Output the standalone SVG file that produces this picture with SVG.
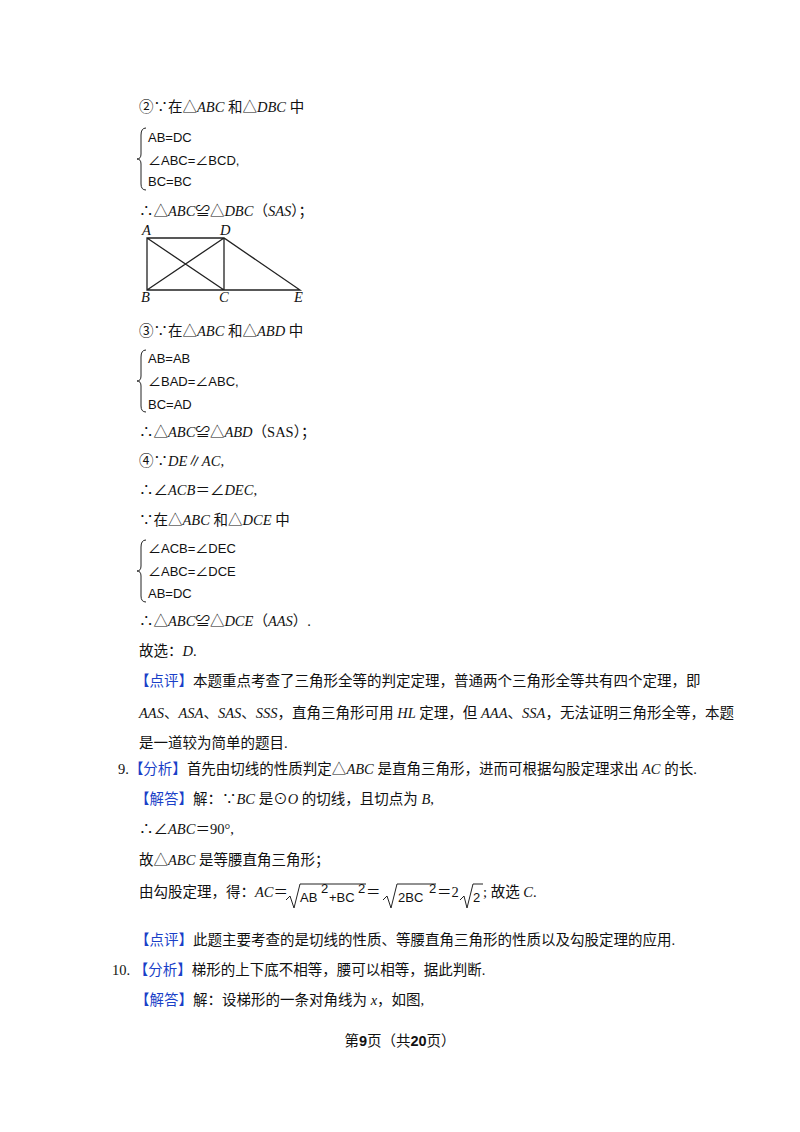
<svg xmlns="http://www.w3.org/2000/svg" width="800" height="1132" viewBox="0 0 800 1132">
<style>
text{font-family:"Liberation Serif","Noto Sans CJK SC",serif;font-size:14.5px;fill:#111}
.b{fill:#1a3fc8}
.i{font-style:italic}
.m{font-family:"Liberation Sans","Noto Sans CJK SC",sans-serif;font-size:13px}
.br{fill:none;stroke:#222;stroke-width:1}
.ln{stroke:#222;stroke-width:1.3;fill:none}
</style>
<rect width="800" height="1132" fill="#fff"/>
<g id="text">
<text x="139" y="112">②∵在△<tspan class="i">ABC</tspan> 和△<tspan class="i">DBC</tspan> 中</text>
<path class="br" d="M146,128 Q141,128 141,135 L141,154 Q141,159 137,159 Q141,159 141,164 L141,184 Q141,190 146,190"/>
<text class="m" x="148" y="142">AB=DC</text>
<text class="m" x="148" y="165">∠ABC=∠BCD,</text>
<text class="m" x="148" y="186">BC=BC</text>
<text x="139" y="216">∴△<tspan class="i">ABC</tspan>≌△<tspan class="i">DBC</tspan>（<tspan class="i">SAS</tspan>）；</text>
<text x="139" y="336">③∵在△<tspan class="i">ABC</tspan> 和△<tspan class="i">ABD</tspan> 中</text>
<path class="br" d="M146,350 Q141,350 141,357 L141,376 Q141,381 137,381 Q141,381 141,386 L141,406 Q141,412 146,412"/>
<text class="m" x="148" y="363">AB=AB</text>
<text class="m" x="148" y="386">∠BAD=∠ABC,</text>
<text class="m" x="148" y="409">BC=AD</text>
<text x="139" y="437">∴△<tspan class="i">ABC</tspan>≌△<tspan class="i">ABD</tspan>（SAS）；</text>
<text x="139" y="466">④∵<tspan class="i">DE</tspan>∥<tspan class="i">AC</tspan>,</text>
<text x="139" y="495">∴∠<tspan class="i">ACB</tspan>＝∠<tspan class="i">DEC</tspan>,</text>
<text x="139" y="525">∵在△<tspan class="i">ABC</tspan> 和△<tspan class="i">DCE</tspan> 中</text>
<path class="br" d="M146,540 Q141,540 141,547 L141,566 Q141,571 137,571 Q141,571 141,576 L141,596 Q141,602 146,602"/>
<text class="m" x="148" y="553">∠ACB=∠DEC</text>
<text class="m" x="148" y="576">∠ABC=∠DCE</text>
<text class="m" x="148" y="598">AB=DC</text>
<text x="139" y="626">∴△<tspan class="i">ABC</tspan>≌△<tspan class="i">DCE</tspan>（<tspan class="i">AAS</tspan>）.</text>
<text x="139" y="656">故选：<tspan class="i">D</tspan>.</text>
<text x="135" y="686"><tspan class="b">【点评】</tspan>本题重点考查了三角形全等的判定定理，普通两个三角形全等共有四个定理，即</text>
<text x="139" y="718"><tspan class="i">AAS</tspan>、<tspan class="i">ASA</tspan>、<tspan class="i">SAS</tspan>、<tspan class="i">SSS</tspan>，直角三角形可用 <tspan class="i">HL</tspan> 定理，但 <tspan class="i">AAA</tspan>、<tspan class="i">SSA</tspan>，无法证明三角形全等，本题</text>
<text x="139" y="748">是一道较为简单的题目.</text>
<text x="118" y="774">9.<tspan class="b">【分析】</tspan>首先由切线的性质判定△<tspan class="i">ABC</tspan> 是直角三角形，进而可根据勾股定理求出 <tspan class="i">AC</tspan> 的长.</text>
<text x="135" y="804"><tspan class="b">【解答】</tspan>解：∵<tspan class="i">BC</tspan> 是⊙<tspan class="i">O</tspan> 的切线，且切点为 <tspan class="i">B</tspan>,</text>
<text x="139" y="834">∴∠<tspan class="i">ABC</tspan>＝90°,</text>
<text x="139" y="865">故△<tspan class="i">ABC</tspan> 是等腰直角三角形；</text>
<text x="139" y="897">由勾股定理，得：<tspan class="i">AC</tspan>＝</text>
<path class="br" d="M286,900 L290,896 L294,908 L300,884 L366,884"/>
<text class="m" x="300" y="902">AB</text><text class="m" x="321" y="893" font-size="10">2</text>
<text class="m" x="329" y="902">+BC</text><text class="m" x="358" y="893" font-size="10">2</text>
<text x="366" y="897">＝</text>
<path class="br" d="M383,900 L387,896 L391,908 L397,884 L436,884"/>
<text class="m" x="398" y="902">2BC</text><text class="m" x="429" y="893" font-size="10">2</text>
<text x="437" y="897">＝2</text>
<path class="br" d="M460,900 L464,896 L467,908 L473,884 L483,884"/>
<text class="m" x="473" y="902">2</text>
<text x="483" y="897">;  故选 <tspan class="i">C</tspan>.</text>
<text x="135" y="945"><tspan class="b">【点评】</tspan>此题主要考查的是切线的性质、等腰直角三角形的性质以及勾股定理的应用.</text>
<text x="112" y="975">10. <tspan class="b">【分析】</tspan>梯形的上下底不相等，腰可以相等，据此判断.</text>
<text x="135" y="1005"><tspan class="b">【解答】</tspan>解：设梯形的一条对角线为 <tspan class="i">x</tspan>，如图,</text>
<text x="400" y="1046" text-anchor="middle" font-size="13">第<tspan font-weight="bold" font-family="Liberation Sans">9</tspan>页（共<tspan font-weight="bold" font-family="Liberation Sans">20</tspan>页）</text>
</g>
<g id="figure">
<path class="ln" d="M147,238 L224,238 L300,290 L147,290 Z M147,238 L224,290 M224,238 L147,290 M224,238 L224,290"/>
<text class="i" x="142" y="235" font-size="13">A</text>
<text class="i" x="220" y="235" font-size="13">D</text>
<text class="i" x="141" y="302" font-size="13">B</text>
<text class="i" x="219" y="302" font-size="13">C</text>
<text class="i" x="294" y="302" font-size="13">E</text>
</g>
</svg>
